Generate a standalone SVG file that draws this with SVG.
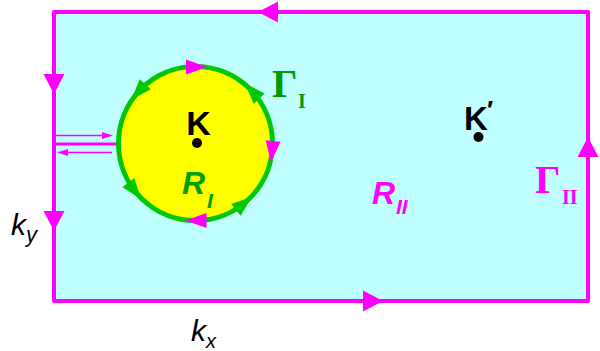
<svg xmlns="http://www.w3.org/2000/svg" xmlns:xlink="http://www.w3.org/1999/xlink" width="600" height="351" viewBox="0 0 600 351">
<style>
.mag{fill:#ff00ff}
.grn{fill:#00c800}
.edge{fill:none;stroke:#ff00ff}
.sans{font-family:"Liberation Sans",Arial,sans-serif}
.serif{font-family:"Liberation Serif","Times New Roman",serif;font-weight:bold}
</style>
<defs>
<path id="big" d="M10,0 L-10,-10.5 L-10,10.5 Z"/>
<path id="mid" d="M10.5,0 L-10.5,-7.5 L-10.5,7.5 Z"/>
<path id="sm" d="M5.5,0 L-5.5,-3.5 L-5.5,3.5 Z"/>
</defs>
<g id="region-II">
<rect x="54" y="12" width="534" height="289" fill="#c0ffff" stroke="#ff00ff" stroke-width="4" stroke-linejoin="round"/>
</g>
<g id="connectors">
<line class="edge" x1="54" y1="144" x2="117" y2="144" stroke-width="3"/>
<line class="edge" x1="56" y1="135.5" x2="103" y2="135.5" stroke-width="1.5"/>
<use href="#sm" class="mag" transform="translate(107.5,135.5)"/>
<line class="edge" x1="66" y1="152.5" x2="112" y2="152.5" stroke-width="1.5"/>
<use href="#sm" class="mag" transform="translate(62.5,152.5) rotate(180)"/>
<use href="#big" class="mag" transform="translate(268,12) rotate(180)"/>
<use href="#big" class="mag" transform="translate(54,84) rotate(90)"/>
<use href="#big" class="mag" transform="translate(54,221) rotate(90)"/>
<use href="#big" class="mag" transform="translate(588,147) rotate(-90)"/>
<use href="#big" class="mag" transform="translate(373,301)"/>
</g>
<g id="region-I">
<circle cx="195.5" cy="143.5" r="77" fill="#ffff00" stroke="#00c800" stroke-width="5"/>
<use href="#mid" class="mag" transform="translate(196.5,67) rotate(0)"/>
<use href="#mid" class="mag" transform="translate(272,151.5) rotate(96)"/>
<use href="#mid" class="mag" transform="translate(196,220.5) rotate(180)"/>
<use href="#mid" class="grn" transform="translate(252,91) rotate(-133)"/>
<use href="#mid" class="grn" transform="translate(138.3,92) rotate(132)"/>
<use href="#mid" class="grn" transform="translate(134.8,191) rotate(52)"/>
<use href="#mid" class="grn" transform="translate(244,203.3) rotate(-39)"/>
</g>
<g id="point-K">
<text class="sans" x="198.5" y="135" font-size="34" font-weight="bold" text-anchor="middle">K</text>
<circle cx="197" cy="143" r="5"/>
</g>
<g id="point-Kprime">
<text class="sans" x="464" y="130" font-size="33" font-weight="bold">K</text>
<text class="sans" x="487" y="119" font-size="26" font-weight="bold">′</text>
<circle cx="478.5" cy="137" r="5"/>
</g>
<g id="label-RI" fill="#00a000">
<text class="sans" x="182" y="194" font-size="32" font-weight="bold" font-style="italic">R</text>
<text class="sans" x="207" y="208" font-size="21" font-weight="bold" font-style="italic">I</text>
</g>
<g id="label-RII" fill="#ff00ff">
<text class="sans" x="372" y="204" font-size="32" font-weight="bold" font-style="italic">R</text>
<text class="sans" x="396" y="214" font-size="21" font-weight="bold" font-style="italic">II</text>
</g>
<g id="label-GammaI" fill="#009a00">
<text class="serif" x="272" y="97" font-size="40">Γ</text>
<text class="serif" x="298" y="108" font-size="20">I</text>
</g>
<g id="label-GammaII" fill="#ff00ff">
<text class="serif" x="535" y="193" font-size="40">Γ</text>
<text class="serif" x="562" y="204" font-size="20">II</text>
</g>
<g id="axis-ky">
<text class="sans" x="11" y="235" font-size="30" font-style="italic">k</text>
<text class="sans" x="26" y="242" font-size="22" font-style="italic">y</text>
</g>
<g id="axis-kx">
<text class="sans" x="191" y="341" font-size="30" font-style="italic">k</text>
<text class="sans" x="206" y="348" font-size="20" font-style="italic">x</text>
</g>
</svg>
